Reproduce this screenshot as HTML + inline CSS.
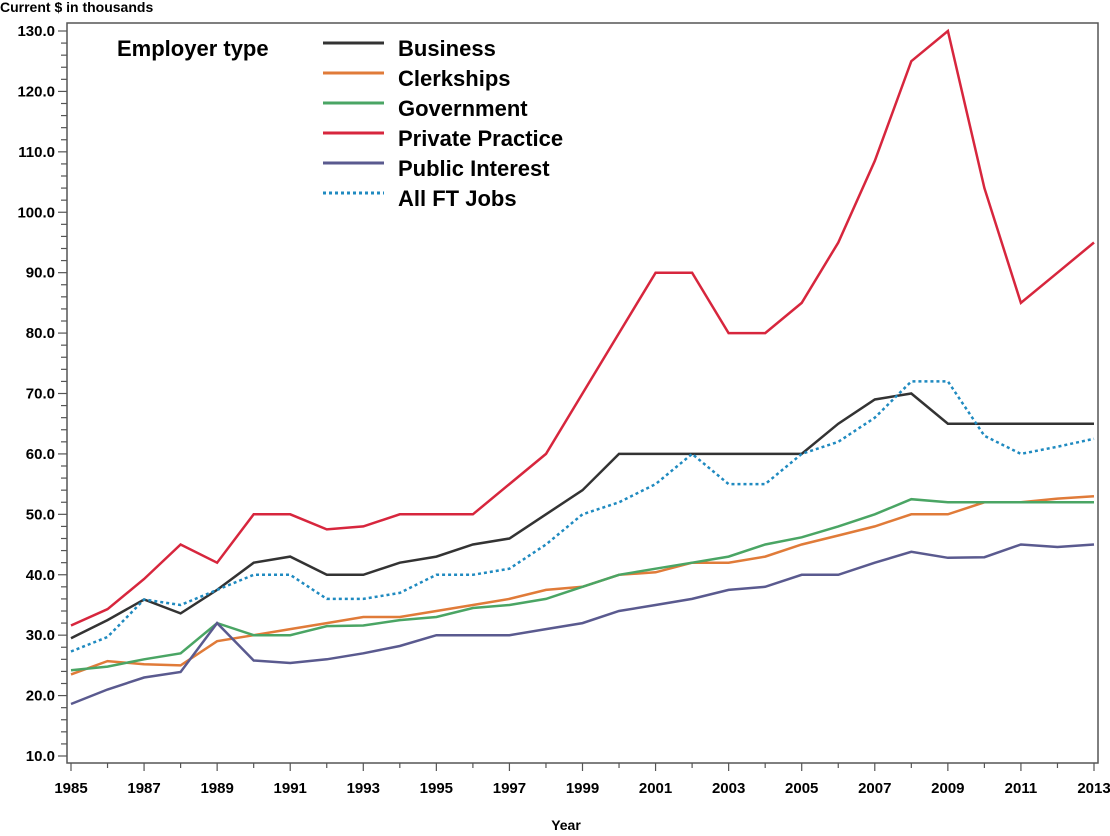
<!DOCTYPE html>
<html><head><meta charset="utf-8"><style>
body{margin:0;background:#fff;}
svg text{font-family:"Liberation Sans",Arial,sans-serif;font-weight:bold;fill:#000;}
</style></head><body>
<svg id="s" width="1110" height="831" xmlns="http://www.w3.org/2000/svg">
<rect x="67" y="23" width="1031" height="740" fill="none" stroke="#555" stroke-width="1.5"/>
<text x="0" y="12" font-size="14">Current $ in thousands</text>
<text x="566" y="830" font-size="14" text-anchor="middle">Year</text>
<text x="117" y="56" font-size="22">Employer type</text>
<g id="g"></g>
</svg>
<script>
var g=document.getElementById('g'),h='';
function X(yr){return 71+(yr-1985)*1023/28;}
function Y(v){return 756-(v-10)*725/120;}
for(var v=10;v<=130;v+=2){var y=Y(v);var maj=(v%10==0);
 h+='<line x1="'+(maj?58:61)+'" x2="67" y1="'+y+'" y2="'+y+'" stroke="#555" stroke-width="1.2"/>';
 if(maj)h+='<text x="55" y="'+(y+5)+'" font-size="15" text-anchor="end">'+v.toFixed(1)+'</text>';}
for(var yr=1985;yr<=2013;yr++){var x=X(yr);var maj=((yr-1985)%2==0);
 h+='<line x1="'+x+'" x2="'+x+'" y1="763" y2="'+(maj?771:768)+'" stroke="#555" stroke-width="1.2"/>';
 if(maj)h+='<text x="'+x+'" y="793" font-size="15" text-anchor="middle">'+yr+'</text>';}
var S=[
["Business","#333333",[29.5,32.5,35.9,33.6,37.5,42,43,40,40,42,43,45,46,50,54,60,60,60,60,60,60,65,69,70,65,65,65,65,65]],
["Clerkships","#e07b39",[23.5,25.7,25.2,25,29,30,31,32,33,33,34,35,36,37.5,38,40,40.4,42,42,43,45,46.5,48,50,50,52,52,52.6,53]],
["Government","#4aa564",[24.2,24.8,26,27,32,30,30,31.5,31.6,32.5,33,34.5,35,36,38,40,41,42,43,45,46.2,48,50,52.5,52,52,52,52,52]],
["Private Practice","#d7263d",[31.6,34.3,39.3,45,42,50,50,47.5,48,50,50,50,55,60,70,80,90,90,80,80,85,95,108.5,125,130,104,85,90,95]],
["Public Interest","#5a5a8f",[18.6,21,23,23.9,32,25.8,25.4,26,27,28.2,30,30,30,31,32,34,35,36,37.5,38,40,40,42,43.8,42.8,42.9,45,44.6,45]],
["All FT Jobs","#1f8ac0",[27.3,29.7,35.9,35,37.5,40,40,36,36,37,40,40,41,45,50,52,55,60,55,55,60,62,66,72,72,63,60,61.2,62.5]]];
S.forEach(function(s,i){var p=s[2].map(function(v,k){return X(1985+k).toFixed(1)+','+Y(v).toFixed(1);}).join(' ');
 var d=(i==5)?' stroke-dasharray="3,3"':'';
 h+='<polyline points="'+p+'" fill="none" stroke="'+s[1]+'" stroke-width="2.5"'+d+'/>';
 var ly=48+i*30;
 h+='<line x1="323" x2="384" y1="'+(ly-5)+'" y2="'+(ly-5)+'" stroke="'+s[1]+'" stroke-width="3"'+d+'/>';
 h+='<text x="398" y="'+(ly+8)+'" font-size="22">'+s[0]+'</text>';});
g.innerHTML=h;
</script>
</body></html>
